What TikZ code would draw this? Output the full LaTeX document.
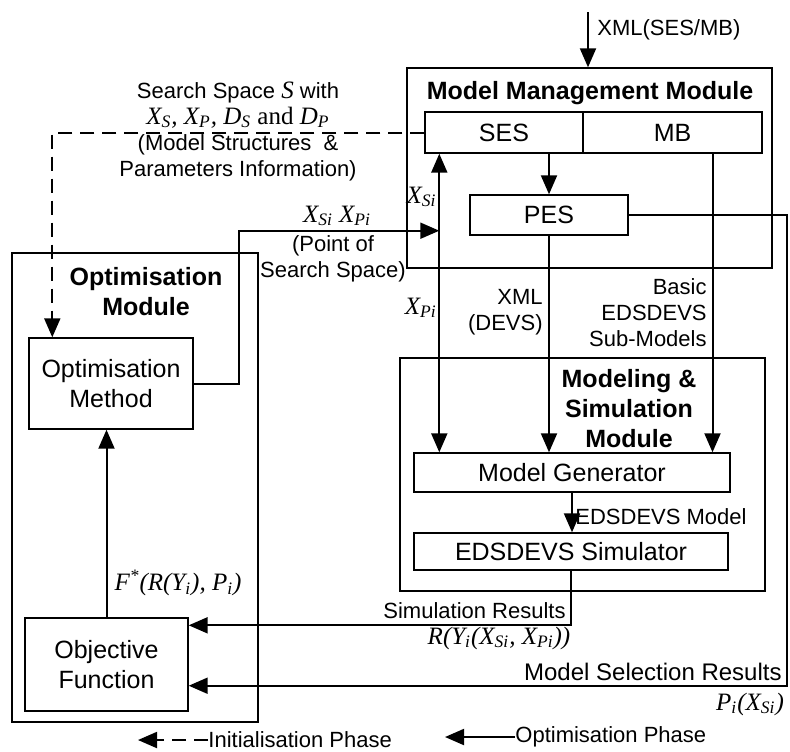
\documentclass[tikz,border=0pt]{standalone}
\usepackage{fontspec}
\setmainfont{Liberation Sans}
\newfontfamily\tmsfont{Liberation Serif}
\usetikzlibrary{arrows.meta,calc}

\newcommand{\mvar}[1]{{\fontsize{12.5}{15}\selectfont\tmsfont\itshape #1}}
\newcommand{\bigtxt}{\fontsize{12.5}{15}\selectfont}
\newcommand{\smalltxt}{\fontsize{11}{13}\selectfont}

\tikzset{
  box/.style={draw, line width=0.7pt, inner sep=0pt, font=\bigtxt, align=center},
  lbl/.style={inner sep=0pt, font=\smalltxt, align=center},
  ttl/.style={inner sep=0pt, font=\bigtxt\bfseries, align=center},
  conn/.style={->, line width=1pt},
  initline/.style={->, line width=1pt, dash pattern=on 7pt off 4pt},
}

\begin{document}
\begin{tikzpicture}[x=0.5pt, y=-0.5pt, >={Triangle[length=9.5pt,width=8pt]}]
\useasboundingbox (0,0) rectangle (790,751);

% model management module
\node (mmm) [box, minimum width=182.5pt, minimum height=100pt] at (589.5,168) {};
\node (mmmtitle) [ttl] at (590,93) {Model Management Module};
\node (ses) [box, minimum width=79pt, minimum height=20.5pt] at (504,132.5) {SES};
\node (mb) [box, minimum width=89.5pt, minimum height=20.5pt] at (672.5,132.5) {MB};
\node (pes) [box, minimum width=79pt, minimum height=20pt] at (549,215) {PES};

% modeling and simulation module
\node (ms) [box, minimum width=182.5pt, minimum height=116.5pt] at (582.5,474.5) {};
\node (mstitle) [ttl] at (629,409) {Modeling \&\\Simulation\\Module};
\node (modgen) [box, minimum width=158pt, minimum height=19.5pt] at (572,472.5) {Model Generator};
\node (sim) [box, minimum width=157pt, minimum height=18.5pt] at (571,551.5) {EDSDEVS Simulator};

% optimisation module
\node (optmod) [box, minimum width=123pt, minimum height=234.5pt] at (135,487.5) {};
\node (optmodtitle) [ttl] at (146,292) {Optimisation\\Module};
\node (optmeth) [box, minimum width=82pt, minimum height=45.5pt] at (111,383.5) {Optimisation\\Method};
\node (objfun) [box, minimum width=81.5pt, minimum height=46.5pt] at (106.5,664.5) {Objective\\Function};

% input
\coordinate (xmlin) at (588,12);
\draw[conn] (xmlin) -- (xmlin |- mmm.north);
\node (xmllbl) [lbl, anchor=west] at (597,30) {XML(SES/MB)};

\draw[conn] (pes.north |- ses.south) -- (pes.north);

% initialisation phase
\draw[initline] (ses.west) -| ($(optmeth.north west)+(24,0)$);
\node (sslbl) [lbl] at (238,131) {Search Space \mvar{S} with\\\mvar{X\textsubscript{S}, X\textsubscript{P}, D\textsubscript{S} {\upshape and} D\textsubscript{P}}\\(Model Structures \ \&\\Parameters Information)};

% search point
\coordinate (xsi) at ($(ses.south west)+(15,0)$);
\draw[conn, <->] (xsi) -- (xsi |- modgen.north);
\node (xsilbl) [anchor=east, inner sep=0pt] at (437,197) {\mvar{X\textsubscript{Si}}};
\node (xpilbl) [anchor=east, inner sep=0pt] at (437,308) {\mvar{X\textsubscript{Pi}}};

\draw[conn] (optmeth.east) -- ++(45,0) |- ($(xsi |- pes.south)+(0,-5)$);
\node (ptlbl) [anchor=base, inner sep=0pt] at (337,222) {\mvar{X\textsubscript{Si} X\textsubscript{Pi}}};
\node (ptlbl2) [lbl] at (333,259) {(Point of\\Search Space)};

\draw[conn] (pes.south) -- (pes.south |- modgen.north);
\node (xmldevs) [lbl, anchor=east, align=right] at (543,312) {XML\\(DEVS)};

\coordinate (mbout) at ($(mb.south)+(40,0)$);
\draw[conn] (mbout) -- (mbout |- modgen.north);
\node (basiclbl) [lbl, anchor=east, align=right] at (707,313) {Basic\\EDSDEVS\\Sub-Models};

\draw[conn] (modgen.south) -- (modgen.south |- sim.north);
\node (edmodel) [lbl, anchor=west] at (575,517) {EDSDEVS Model};

% results back to objective function
\draw[conn] (sim.south) |- ($(objfun.north east)+(0,8)$);
\node (simres) [lbl, anchor=east] at (566,611) {Simulation Results};
\node (rlbl) [inner sep=0pt] at (499,638) {\mvar{R(Y\textsubscript{i}(X\textsubscript{Si}, X\textsubscript{Pi}))}};

\coordinate (rim) at (787,0);
\draw[conn] (pes.east) -- (pes.east -| rim) |- ($(objfun.south east)+(0,-26)$);
\node (msres) [lbl, anchor=east, font=\fontsize{12}{14}\selectfont] at (782,672) {Model Selection Results};
\node (plbl) [inner sep=0pt] at (750,704) {\mvar{P\textsubscript{i}(X\textsubscript{Si})}};

\draw[conn] (objfun.north) -- (objfun.north |- optmeth.south);
\node (flbl) [inner sep=0pt] at (178,583) {\mvar{F\textsuperscript{*}(R(Y\textsubscript{i}), P\textsubscript{i})}};

% legend
\node (leginit) [lbl, anchor=west] at (208,740) {Initialisation Phase};
\draw[initline] (leginit.west) -- ++(-70,0);
\node (legopt) [lbl, anchor=west] at (515,737) {Optimisation Phase};
\draw[conn] (legopt.west) -- ++(-70,0);
\end{tikzpicture}
\end{document}
